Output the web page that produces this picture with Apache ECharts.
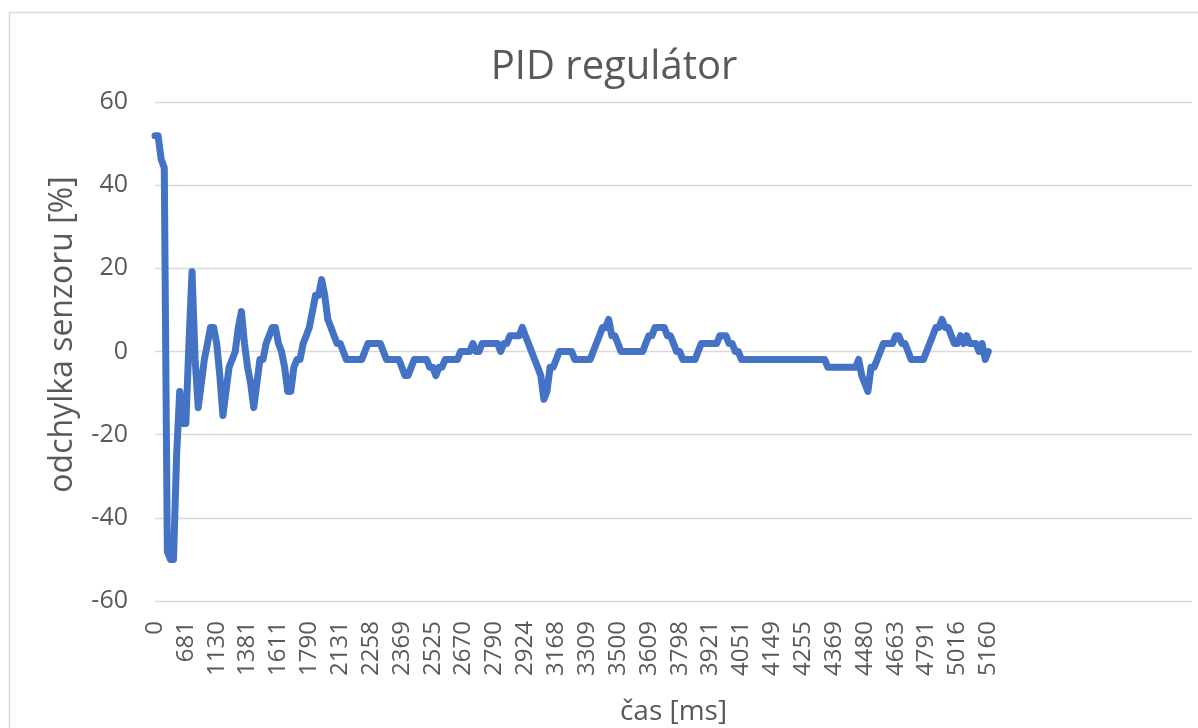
<!DOCTYPE html>
<html>
<head>
<meta charset="utf-8">
<title>PID regulátor</title>
<script src="https://cdn.jsdelivr.net/npm/echarts@6/dist/echarts.min.js"></script>
<style>
  html, body { margin: 0; padding: 0; background: #fff; }
  #chart { width: 1198px; height: 728px; }
</style>
</head>
<body>
<div id="chart"></div>
<script>
// labels shown on the time axis (every 10th sample)
const tickLabels = [0, 681, 1130, 1381, 1611, 1790, 2131, 2258, 2369, 2525, 2670, 2790, 2924, 3168,
  3309, 3500, 3609, 3798, 3921, 4051, 4149, 4255, 4369, 4480, 4663, 4791, 5016, 5160];
const labelStep = 10;
const totalSlots = 337; // the sheet range runs past the last sample

// odchylka senzoru [%] per sample
const deviation = [
  51.9, 51.9, 46.2, 44.2, -48.1, -50, -50, -25, -9.6, -17.3,
  -17.3, 1.9, 19.2, -1.9, -13.5, -7.7, -1.9, 1.9, 5.8, 5.8,
  1.9, -5.8, -15.4, -9.6, -3.8, -1.9, 0, 5.8, 9.6, 1.9,
  -3.8, -7.7, -13.5, -7.7, -1.9, -1.9, 1.9, 3.8, 5.8, 5.8,
  1.9, 0, -3.8, -9.6, -9.6, -3.8, -1.9, -1.9, 1.9, 3.8,
  5.8, 9.6, 13.5, 13.5, 17.3, 13.5, 7.7, 5.8, 3.8, 1.9,
  1.9, 0, -1.9, -1.9, -1.9, -1.9, -1.9, -1.9, 0, 1.9,
  1.9, 1.9, 1.9, 1.9, 0, -1.9, -1.9, -1.9, -1.9, -1.9,
  -3.8, -5.8, -5.8, -3.8, -1.9, -1.9, -1.9, -1.9, -1.9, -3.8,
  -3.8, -5.8, -3.8, -3.8, -1.9, -1.9, -1.9, -1.9, -1.9, 0,
  0, 0, 0, 1.9, 0, 0, 1.9, 1.9, 1.9, 1.9,
  1.9, 1.9, 0, 1.9, 1.9, 3.8, 3.8, 3.8, 3.8, 5.8,
  3.8, 1.9, 0, -1.9, -3.8, -5.8, -11.5, -9.6, -3.8, -3.8,
  -1.9, 0, 0, 0, 0, 0, -1.9, -1.9, -1.9, -1.9,
  -1.9, -1.9, 0, 1.9, 3.8, 5.8, 5.8, 7.7, 3.8, 3.8,
  1.9, 0, 0, 0, 0, 0, 0, 0, 0, 1.9,
  3.8, 3.8, 5.8, 5.8, 5.8, 5.8, 3.8, 3.8, 1.9, 0,
  0, -1.9, -1.9, -1.9, -1.9, -1.9, 0, 1.9, 1.9, 1.9,
  1.9, 1.9, 1.9, 3.8, 3.8, 3.8, 1.9, 1.9, 0, 0,
  -1.9, -1.9, -1.9, -1.9, -1.9, -1.9, -1.9, -1.9, -1.9, -1.9,
  -1.9, -1.9, -1.9, -1.9, -1.9, -1.9, -1.9, -1.9, -1.9, -1.9,
  -1.9, -1.9, -1.9, -1.9, -1.9, -1.9, -1.9, -1.9, -3.8, -3.8,
  -3.8, -3.8, -3.8, -3.8, -3.8, -3.8, -3.8, -3.8, -1.9, -5.8,
  -7.7, -9.6, -3.8, -3.8, -1.9, 0, 1.9, 1.9, 1.9, 1.9,
  3.8, 3.8, 1.9, 1.9, 0, -1.9, -1.9, -1.9, -1.9, -1.9,
  0, 1.9, 3.8, 5.8, 5.8, 7.7, 5.8, 5.8, 3.8, 1.9,
  1.9, 3.8, 1.9, 3.8, 1.9, 1.9, 1.9, 0, 1.9, -1.9,
  0
];

const categories = [];
for (let i = 0; i < totalSlots; i++) {
  categories.push(i % labelStep === 0 && tickLabels[i / labelStep] !== undefined ? String(tickLabels[i / labelStep]) : '');
}

const textColor = '#595959';
const fontFamily = '"Open Sans", sans-serif';

const myChart = echarts.init(document.getElementById('chart'), null, { renderer: 'canvas' });
myChart.setOption({
  animation: false,
  backgroundColor: '#fff',
  title: {
    text: 'PID regulátor',
    left: 609,
    top: 43,
    textAlign: 'center',
    textStyle: { color: textColor, fontSize: 40, fontWeight: 'normal', fontFamily: fontFamily }
  },
  graphic: [{
    type: 'rect',
    shape: { x: 9.5, y: 12.5, width: 1300, height: 800 },
    style: { fill: 'none', stroke: '#d9d9d9', lineWidth: 1.5 },
    silent: true
  }],
  grid: { left: 155, right: 6, top: 102, bottom: 127, outerBoundsMode: 'none' },
  xAxis: {
    type: 'category',
    boundaryGap: false,
    data: categories,
    name: 'čas [ms]',
    nameLocation: 'middle',
    nameGap: 97,
    nameMoveOverlap: false,
    nameTextStyle: { color: textColor, fontSize: 28, fontFamily: fontFamily },
    axisLine: { show: false },
    axisTick: { show: false },
    axisLabel: {
      interval: 0,
      rotate: 90,
      margin: 20,
      color: textColor,
      fontSize: 24,
      fontFamily: fontFamily
    },
    splitLine: { show: false }
  },
  yAxis: {
    type: 'value',
    min: -60,
    max: 60,
    interval: 20,
    name: 'odchylka senzoru [%]',
    nameLocation: 'middle',
    nameGap: 76,
    nameMoveOverlap: false,
    nameTextStyle: { color: textColor, fontSize: 32, fontFamily: fontFamily, padding: [0, 0, 0, 34] },
    axisLine: { show: false },
    axisTick: { show: false },
    axisLabel: { margin: 27, color: textColor, fontSize: 25, fontFamily: fontFamily },
    splitLine: { lineStyle: { color: '#d9d9d9', width: 1.3 } }
  },
  series: [{
    type: 'line',
    data: deviation,
    showSymbol: false,
    lineStyle: { color: '#4472C4', width: 7, join: 'round', cap: 'round' },
    itemStyle: { color: '#4472C4' }
  }]
});
</script>
</body>
</html>
